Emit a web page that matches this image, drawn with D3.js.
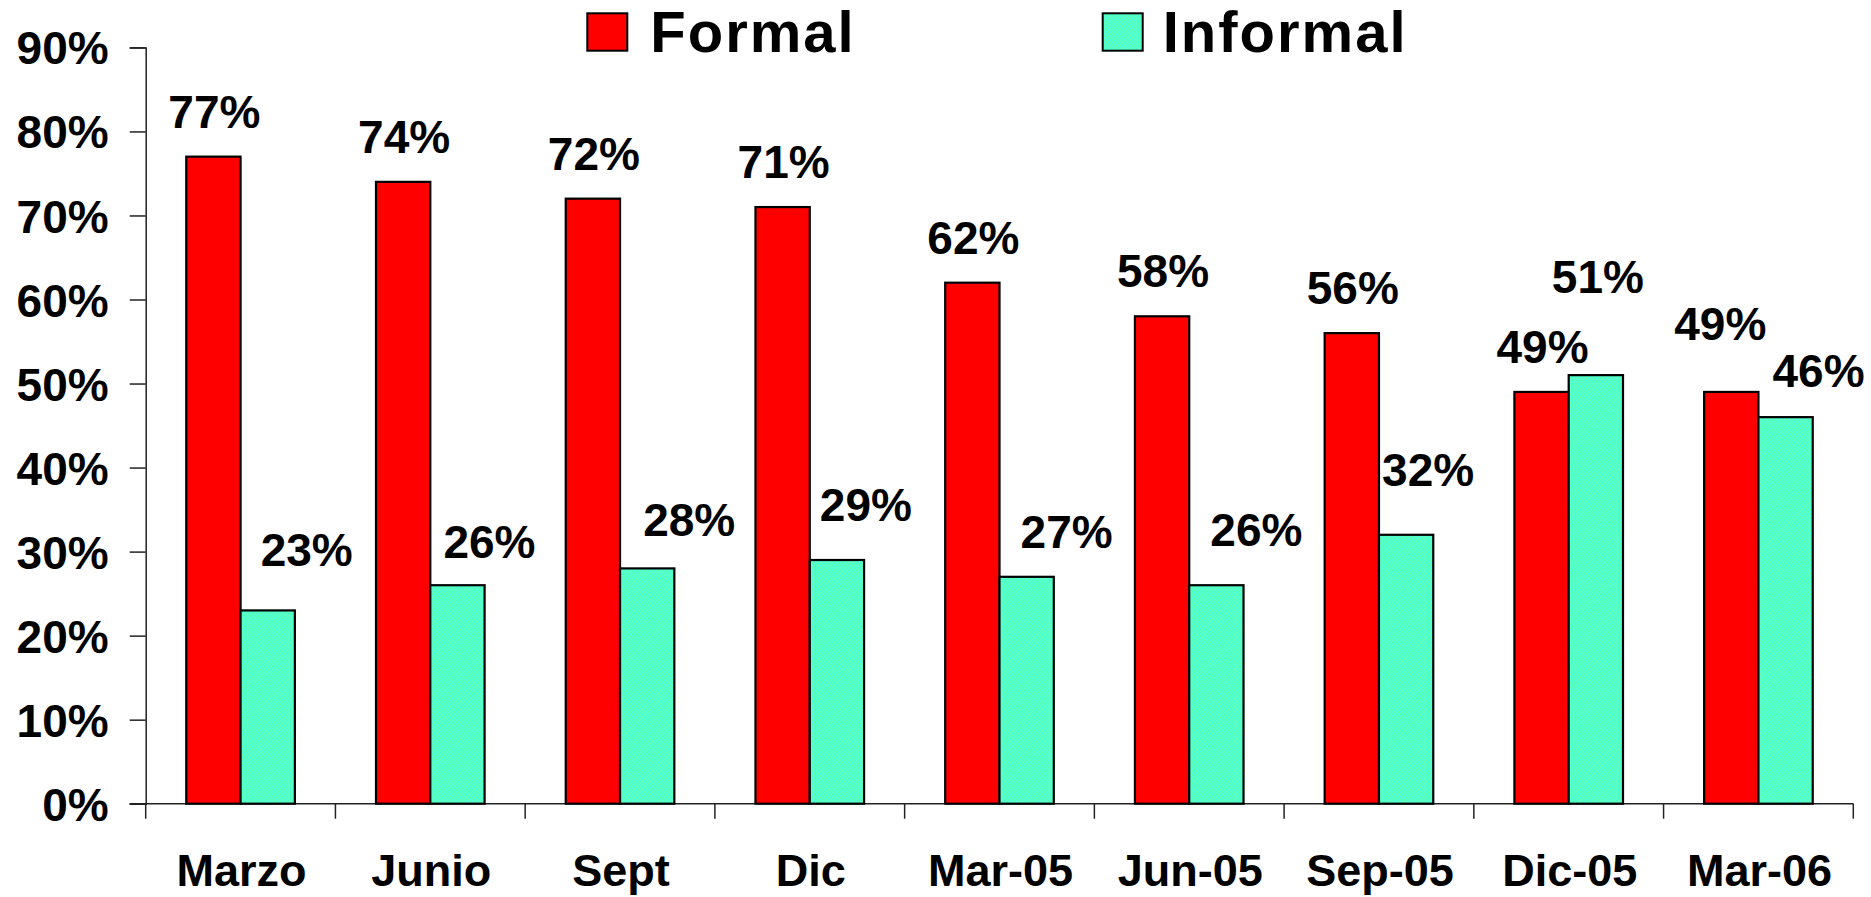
<!DOCTYPE html>
<html>
<head>
<meta charset="utf-8">
<script src="https://cdn.jsdelivr.net/npm/d3@7"></script>
<style>
  html, body { margin: 0; padding: 0; background: #fff; }
  svg { display: block; }
  text { font-family: "Liberation Sans", Arial, sans-serif; font-weight: bold; fill: #000; }
</style>
</head>
<body>
<svg id="chart" width="1871" height="897"></svg>
<script>
// ---- data ----
const categories = ["Marzo", "Junio", "Sept", "Dic", "Mar-05", "Jun-05", "Sep-05", "Dic-05", "Mar-06"];
const seriesNames = ["Formal", "Informal"];
const formal   = [77, 74, 72, 71, 62, 58, 56, 49, 49];
const informal = [23, 26, 28, 29, 27, 26, 32, 51, 46];
const yTicks = [0, 10, 20, 30, 40, 50, 60, 70, 80, 90];

// manual label nudges (as in the original, labels were hand-moved) [dx, dy]
const formalNudge   = [[1,0],[1,0],[1,0],[1,0],[1,0],[1,0],[1,0],[1,0],[-11,-23]];
const informalNudge = [[39,-15],[32,2],[42,-3],[29,-10],[40,0],[40,-10],[22,-20],[2,-53],[33,-1]];

// ---- layout ----
const svg = d3.select("#chart");
const plot = { left: 145.7, right: 1853.3, top: 47.4, bottom: 803.7 };

const x0 = d3.scaleBand().domain(categories).range([plot.left, plot.right]).padding(0);
const x1 = d3.scaleBand().domain(seriesNames).range([0, x0.bandwidth()]).paddingInner(0).paddingOuter(0.747);
const y = d3.scaleLinear().domain([0, 90]).range([plot.bottom, plot.top]);

// pattern for Informal
const defs = svg.append("defs");
const pat = defs.append("pattern")
  .attr("id", "hatch").attr("patternUnits", "userSpaceOnUse")
  .attr("width", 3).attr("height", 3)
  .attr("patternTransform", "rotate(-45)");
pat.append("rect").attr("width", 3).attr("height", 3).attr("fill", "#6CFF9E");
pat.append("rect").attr("width", 3).attr("height", 1.5).attr("fill", "#3CFFF0");

const colors = { Formal: "#FF0000", Informal: "url(#hatch)" };

// y axis
const yAxis = d3.axisLeft(y).tickValues(yTicks).tickSize(16).tickFormat(d => d + "%");
const gy = svg.append("g").attr("transform", `translate(${plot.left},0)`).call(yAxis);
gy.select(".domain").attr("stroke", "#222").attr("stroke-width", 1.5);
gy.selectAll(".tick line").attr("stroke", "#222").attr("stroke-width", 1.5);
gy.selectAll(".tick text")
  .attr("x", -37).attr("dy", "0.36em")
  .style("font-size", "46px").style("font-family", "'Liberation Sans', Arial, sans-serif")
  .style("font-weight", "bold").attr("fill", "#000");

// x axis (category boundaries ticks)
const gx = svg.append("g").attr("transform", `translate(0,${plot.bottom})`);
gx.append("line").attr("x1", plot.left - 16).attr("x2", plot.right)
  .attr("stroke", "#222").attr("stroke-width", 1.5);
const boundaries = categories.map(c => x0(c)).concat([x0(categories[categories.length - 1]) + x0.bandwidth()]);
gx.selectAll("line.bt").data(boundaries).enter().append("line").attr("class", "bt")
  .attr("x1", d => d).attr("x2", d => d).attr("y1", 0).attr("y2", 15)
  .attr("stroke", "#222").attr("stroke-width", 1.5);
gx.selectAll("text.cat").data(categories).enter().append("text").attr("class", "cat")
  .attr("x", d => x0(d) + x0.bandwidth() / 2 + 1)
  .attr("y", 82)
  .attr("text-anchor", "middle")
  .style("font-size", "45px")
  .text(d => d);

// bars
const rows = categories.map((c, i) => ({ cat: c, i, vals: [
  { s: "Formal", v: formal[i], nudge: formalNudge[i] },
  { s: "Informal", v: informal[i], nudge: informalNudge[i] }
]}));

const groups = svg.append("g").selectAll("g").data(rows).enter().append("g")
  .attr("transform", d => `translate(${x0(d.cat)},0)`);

groups.selectAll("rect").data(d => d.vals).enter().append("rect")
  .attr("x", d => x1(d.s))
  .attr("y", d => y(d.v))
  .attr("width", x1.bandwidth())
  .attr("height", d => y(0) - y(d.v))
  .attr("fill", d => colors[d.s])
  .attr("stroke", "#000").attr("stroke-width", 2.2);

groups.selectAll("text").data(d => d.vals).enter().append("text")
  .attr("x", d => x1(d.s) + x1.bandwidth() / 2 + d.nudge[0])
  .attr("y", d => y(d.v) - 29 + d.nudge[1])
  .attr("text-anchor", "middle")
  .style("font-size", "46px")
  .text(d => d.v + "%");

// legend
const legend = svg.append("g");
const legendX = [587.3, 1102.7];
seriesNames.forEach((s, i) => {
  const g = legend.append("g").attr("transform", `translate(${legendX[i]},13.3)`);
  g.append("rect").attr("width", 40).attr("height", 37.4)
    .attr("fill", colors[s]).attr("stroke", "#000").attr("stroke-width", 2);
  g.append("text").attr("x", i === 0 ? 63 : 60).attr("y", 38.4)
    .style("font-size", "58px").style("letter-spacing", "2px")
    .text(s);
});
</script>
</body>
</html>
